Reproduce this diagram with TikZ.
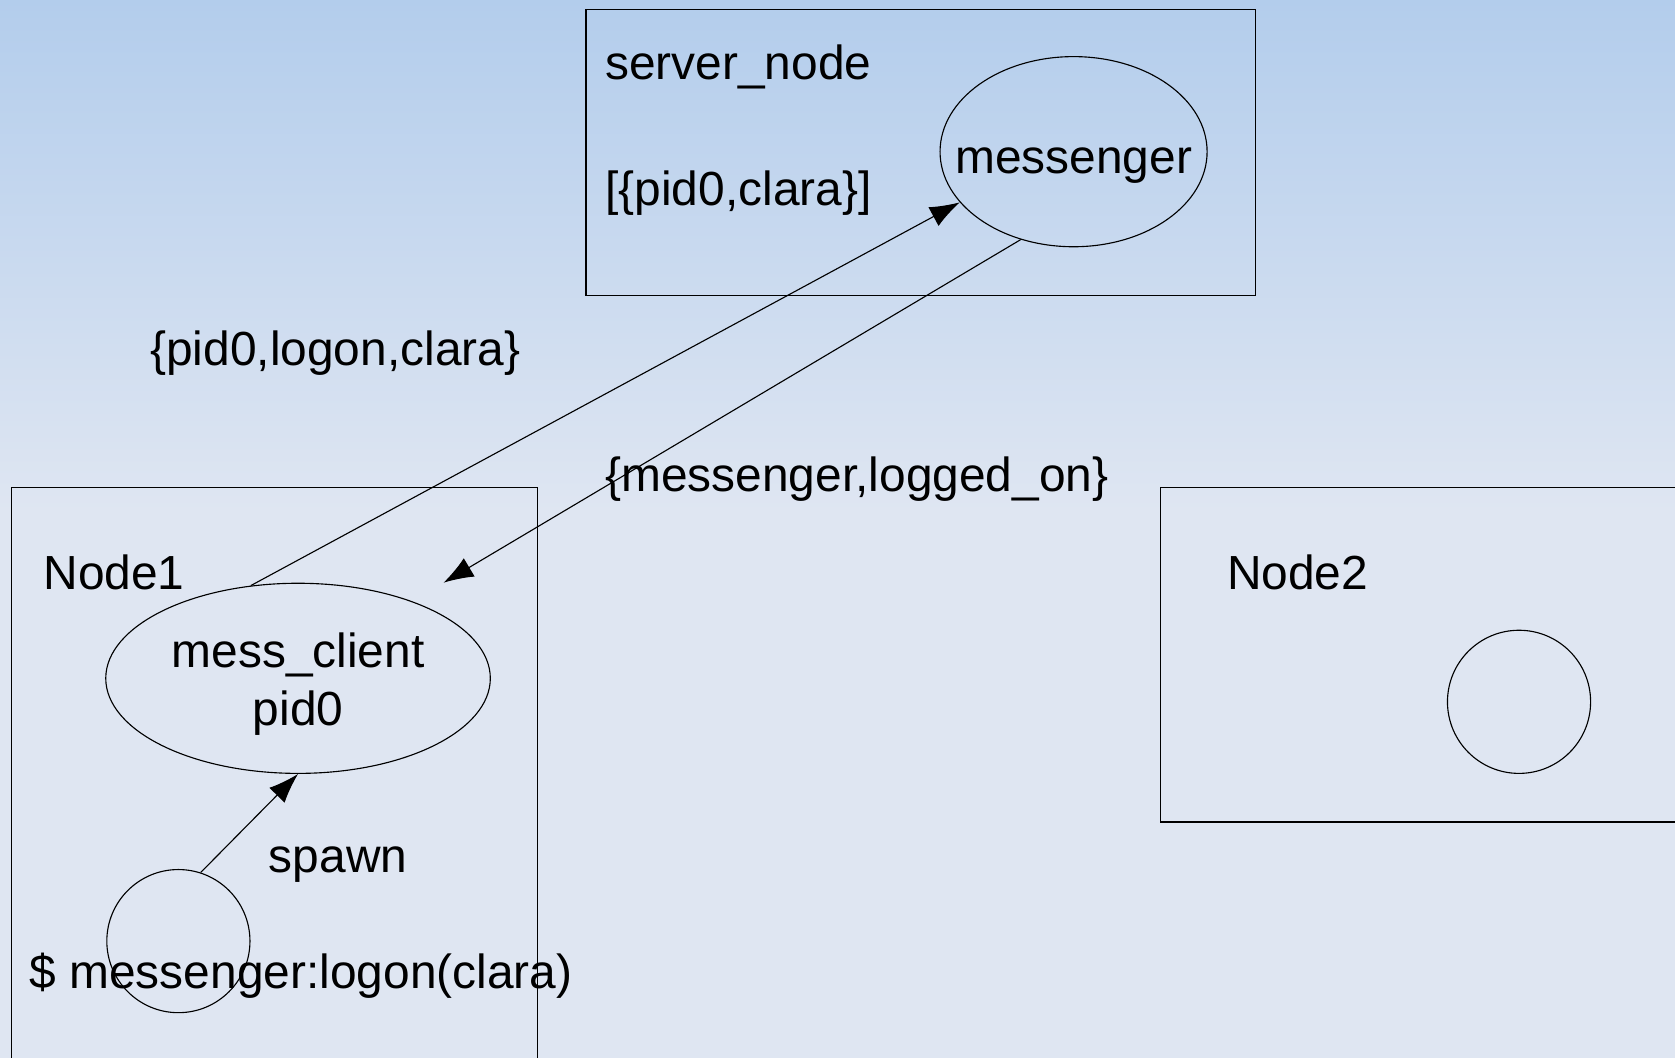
\documentclass[tikz,border=0pt]{standalone}
\usepackage{fontspec}
\setmainfont{Liberation Sans}
\usetikzlibrary{arrows.meta,shapes.geometric}

\definecolor{bgtop}{RGB}{179,205,236}
\definecolor{bgbot}{RGB}{223,230,242}

\tikzset{
	lbl/.style={inner sep=0pt, anchor=base west, font=\fontsize{12.75}{15.4}\selectfont},
	frame/.style={draw, line width=0.3pt, inner sep=0pt, anchor=north west},
	proc/.style={draw, ellipse, line width=0.3pt, inner sep=0pt, align=center, font=\fontsize{12.75}{15.4}\selectfont},
	shell/.style={draw, circle, line width=0.3pt, inner sep=0pt, minimum size=13.4mm},
	msg/.style={line width=0.3pt, -{Latex[length=2.8mm,width=2mm]}},
}

\begin{document}
\begin{tikzpicture}[x=0.1mm,y=-0.1mm]
		\useasboundingbox (0,0) rectangle (1568,990);
		\clip (0,0) rectangle (1568,990);
		\shade[top color=bgtop, bottom color=bgbot] (0,0) rectangle (1568,480);
		\fill[bgbot] (0,479) rectangle (1568,990);

		% hosts
		\node[frame, minimum width=62.7mm, minimum height=26.8mm] (srvbox) at (548,8) {};
		\node[frame, minimum width=49.3mm, minimum height=60mm] (n1box) at (10,456) {};
		\node[frame, minimum width=60mm, minimum height=31.3mm] (n2box) at (1086,456) {};

		\node[lbl] (srvname) at (566,74) {server\_node};
		\node[lbl] (srvtab) at (566,192) {[\{pid0,clara\}]};
		\node[lbl] (n1name) at (40,552) {Node1};
		\node[lbl] (n2name) at (1148,552) {Node2};

		% processes
		\node[proc, minimum width=25mm, minimum height=17.8mm] (messenger) at (1005,142)
			{\raisebox{-2mm}[0pt][0pt]{\makebox[0pt]{messenger}}};
		\node[proc, minimum width=36mm, minimum height=17.8mm] (client) at (279,635)
			{mess\_client\rule{0pt}{12.2pt}\\pid0};
		\node[shell] (sh) at (167,881) {};
		\node[shell] (n2proc) at (1422,657) {};

		\node[lbl] (logonmsg) at (140,342) {\{pid0,logon,clara\}};
		\node[lbl] (replymsg) at (566,460) {\{messenger,logged\_on\}};
		\node[lbl] (spawnlbl) at (251,817) {spawn};
		\node[lbl] (cmd) at (27,925) {\$ messenger:logon(clara)};

		\draw[msg] (sh.72) -- (client.south);
		\draw[msg] (client.117) -- (messenger.204);
		\draw[msg, shorten >=3.4mm] (messenger.239) -- (client.34);
\end{tikzpicture}
\end{document}
